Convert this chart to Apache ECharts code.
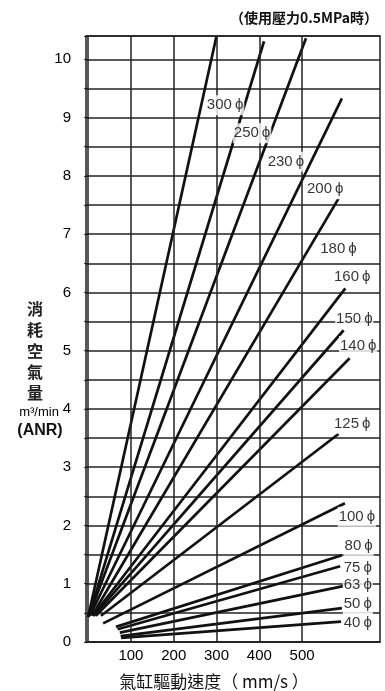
<!DOCTYPE html>
<html>
<head>
<meta charset="utf-8">
<script src="https://cdn.jsdelivr.net/npm/echarts@6/dist/echarts.min.js"></script>
<style>
  html, body { margin: 0; padding: 0; background: #fff; }
  #main { width: 385px; height: 691px; }
</style>
</head>
<body>
<div id="main"></div>
<script>
// cylinder bores and the straight lines (speed mm/s, air m3/min)
var bores  = ['300', '250', '230', '200', '180', '160', '150', '140', '125', '100', '80', '75', '63', '50', '40'];
var startV = [0, 1, 2, 4, 9, 11, 13, 18, 30, 35, 65, 69, 74, 76, 77];
var startQ = [0.43, 0.43, 0.45, 0.45, 0.45, 0.45, 0.45, 0.45, 0.45, 0.32, 0.26, 0.22, 0.16, 0.10, 0.07];
var endV   = [300, 411, 509, 593, 585, 601, 597, 611, 585, 600, 593, 589, 596, 593, 591];
var endQ   = [10.4, 10.31, 10.36, 9.33, 7.61, 6.07, 5.35, 4.87, 3.57, 2.38, 1.49, 1.30, 0.96, 0.58, 0.35];

// where each bore label sits
var labelV = [320, 383, 462, 554, 585, 617, 622, 631, 617, 628, 632, 630, 630, 630, 630];
var labelQ = [9.21, 8.73, 8.24, 7.77, 6.74, 6.26, 5.54, 5.08, 3.75, 2.15, 1.65, 1.28, 0.98, 0.65, 0.32];

var xTicks = [100, 200, 300, 400, 500];

var latin = "'Liberation Sans Narrow', 'Liberation Sans', sans-serif";
var cjk = "'Noto Sans CJK TC', 'Noto Sans CJK SC', sans-serif";

var chart = echarts.init(document.getElementById('main'));

var series = [];

// vertical grid lines
series.push({
    type: 'line',
    data: [[-5, 0]],
    showSymbol: false,
    silent: true,
    z: 1,
    markLine: {
        silent: true,
        symbol: 'none',
        label: { show: false },
        lineStyle: { color: '#222', width: 1.5, type: 'solid' },
        data: xTicks.map(function (v) { return { xAxis: v }; })
    }
});

for (var i = 0; i < bores.length; i++) {
    series.push({
        name: bores[i],
        type: 'line',
        data: [[startV[i], startQ[i]], [endV[i], endQ[i]]],
        showSymbol: false,
        silent: true,
        z: 3,
        lineStyle: { color: '#111', width: 2.7 }
    });
}

var labelData = [];
for (var j = 0; j < bores.length; j++) {
    labelData.push({ name: bores[j], value: [labelV[j], labelQ[j]] });
}
series.push({
    type: 'scatter',
    data: labelData,
    symbolSize: 0,
    silent: true,
    z: 5,
    label: {
        show: true,
        position: 'inside',
        formatter: function (p) { return p.name + '\u2009\u03d5'; },
        backgroundColor: '#fff',
        padding: [3, 1, 2, 1],
        color: '#000',
        fontSize: 15,
        fontFamily: latin
    }
});

option = {
    animation: false,
    backgroundColor: '#fff',
    grid: {
        left: 86,
        right: 5,
        top: 36,
        bottom: 49,
        show: true,
        borderColor: '#222',
        borderWidth: 1.5
    },
    xAxis: {
        type: 'value',
        min: -5,
        max: 682,
        axisLine: { show: true, lineStyle: { color: '#222', width: 1.5 } },
        axisTick: { show: false },
        splitLine: { show: false },
        axisLabel: {
            customValues: xTicks,
            margin: 6,
            color: '#000',
            fontSize: 15,
            fontFamily: latin,
            formatter: function (v) { return xTicks.indexOf(v) >= 0 ? String(v) : ''; }
        }
    },
    yAxis: {
        type: 'value',
        min: 0,
        max: 10.4,
        interval: 0.5,
        axisLine: { show: true, lineStyle: { color: '#222', width: 1.5 } },
        axisTick: { show: true, length: 4, lineStyle: { color: '#222', width: 1.2 } },
        splitLine: { show: true, lineStyle: { color: '#222', width: 1.5 } },
        axisLabel: {
            margin: 15,
            color: '#000',
            fontSize: 15,
            fontFamily: latin,
            formatter: function (v) { return (v % 1 === 0 && v <= 10) ? String(v) : ''; }
        }
    },
    graphic: [
        {
            type: 'text', right: 7, top: 11, z: 10,
            style: { text: '（使用壓力0.5MPa時）', font: 'bold 14px ' + cjk, fill: '#111' }
        },
        {
            type: 'text', x: 35, y: 298, z: 10,
            style: { text: '消\n耗\n空\n氣\n量', font: 'bold 16px ' + cjk, lineHeight: 21, textAlign: 'center', fill: '#222' }
        },
        {
            type: 'text', x: 39, y: 412, z: 10,
            style: { text: 'm³/min', font: '13px ' + latin, textAlign: 'center', textVerticalAlign: 'middle', fill: '#000' }
        },
        {
            type: 'text', x: 40, y: 431, z: 10,
            style: { text: '(ANR)', font: 'bold 16px ' + latin, textAlign: 'center', textVerticalAlign: 'middle', fill: '#111' }
        },
        {
            type: 'text', x: 214, y: 682, z: 10,
            style: { text: '氣缸驅動速度（ mm/s ）', font: '17px ' + cjk, textAlign: 'center', textVerticalAlign: 'middle', fill: '#111' }
        }
    ],
    series: series
};

chart.setOption(option);
</script>
</body>
</html>
